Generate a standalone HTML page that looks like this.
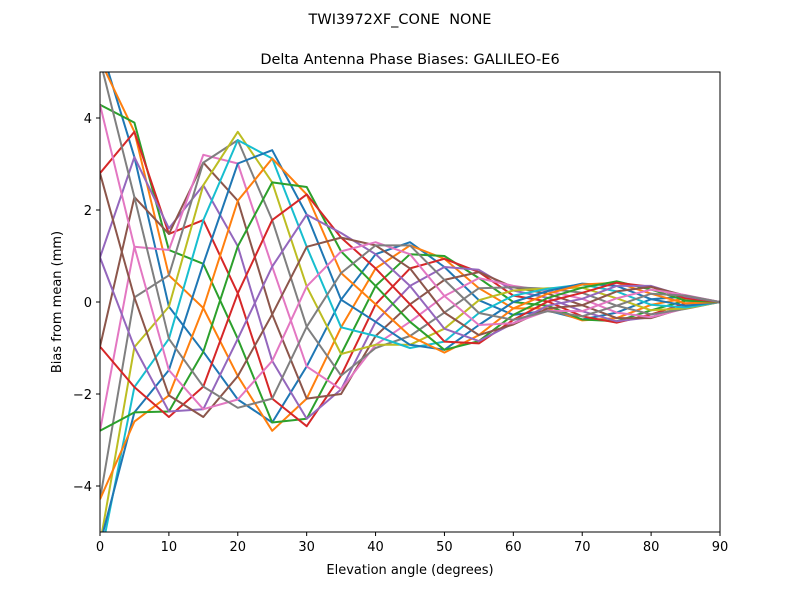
<!DOCTYPE html>
<html><head><meta charset="utf-8"><style>
body{margin:0;background:#fff}
svg{display:block;font-family:"DejaVu Sans","Liberation Sans",sans-serif}
</style></head><body>
<svg id="chart" width="800" height="600" viewBox="0 0 800 600">
<rect width="800" height="600" fill="#fff"/>
<text x="400" y="24" text-anchor="middle" font-size="14.5">TWI3972XF_CONE&#160;&#160;NONE</text>
<text x="410" y="64" text-anchor="middle" font-size="14.5">Delta Antenna Phase Biases: GALILEO-E6</text>
<defs><clipPath id="clip"><rect x="100" y="72" width="620" height="460"/></clipPath></defs>
<g id="lines" clip-path="url(#clip)"></g>
<rect x="100" y="72" width="620" height="460" fill="none" stroke="#000" stroke-width="1"/>
<g id="xt"></g>
<g id="yt"></g>
<text x="410" y="574" text-anchor="middle" font-size="13">Elevation angle (degrees)</text>
<text transform="translate(61,302) rotate(-90)" text-anchor="middle" font-size="13">Bias from mean (mm)</text>
</svg>
<script>
const elevations=[0,5,10,15,20,25,30,35,40,45,50,55,60,65,70,75,80,85,90];
// rows: elevation; columns: series (azimuth)
const e0=[5.6,5.26,4.29,2.8,0.97,-0.97,-2.8,-4.29,-5.26,-5.6,-5.26,-4.29,-2.8,-0.97,0.97,2.8,4.29,5.26];
const e5=[3.15,3.7,3.9,3.7,3.15,2.28,1.2,0.1,-0.98,-1.85,-2.4,-2.6,-2.4,-1.85,-0.98,0.1,1.2,2.28];
const e10=[-0.1,0.58,1.13,1.48,1.6,1.48,1.13,0.58,-0.1,-0.8,-1.48,-2.03,-2.38,-2.5,-2.38,-2.03,-1.48,-0.8];
const e15=[-1.08,-0.13,0.83,1.78,2.54,3.03,3.2,3.03,2.54,1.78,0.83,-0.13,-1.08,-1.84,-2.33,-2.5,-2.33,-1.84];
const e20=[-2.12,-1.61,-0.8,0.19,1.21,2.2,3.01,3.52,3.7,3.52,3.01,2.2,1.21,0.19,-0.8,-1.61,-2.12,-2.3];
const e25=[-2.62,-2.8,-2.62,-2.1,-1.28,-0.27,0.77,1.78,2.6,3.12,3.3,3.12,2.6,1.78,0.77,-0.27,-1.28,-2.1];
const e30=[-1.4,-2.1,-2.54,-2.7,-2.54,-2.1,-1.4,-0.54,0.34,1.2,1.9,2.34,2.5,2.34,1.9,1.2,0.34,-0.54];
const e35=[0.05,-0.55,-1.13,-1.6,-1.9,-2.0,-1.9,-1.6,-1.13,-0.55,0.05,0.63,1.1,1.4,1.5,1.4,1.1,0.63];
const e40=[1.04,0.73,0.35,-0.05,-0.43,-0.74,-0.93,-1.0,-0.93,-0.74,-0.43,-0.05,0.35,0.73,1.04,1.23,1.3,1.23];
const e45=[1.3,1.23,1.04,0.73,0.35,-0.05,-0.43,-0.74,-0.93,-1.0,-0.93,-0.74,-0.43,-0.05,0.35,0.73,1.04,1.23];
const e50=[0.76,0.94,1.0,0.94,0.76,0.48,0.13,-0.23,-0.58,-0.86,-1.04,-1.1,-1.04,-0.86,-0.58,-0.23,0.13,0.48];
const e55=[0.04,0.3,0.52,0.65,0.7,0.65,0.52,0.3,0.04,-0.24,-0.5,-0.72,-0.85,-0.9,-0.85,-0.72,-0.5,-0.24];
const e60=[-0.28,-0.14,0.0,0.14,0.25,0.32,0.35,0.32,0.25,0.14,0.0,-0.14,-0.28,-0.39,-0.46,-0.49,-0.46,-0.39];
const e65=[-0.19,-0.14,-0.08,0.01,0.09,0.18,0.24,0.29,0.3,0.29,0.24,0.18,0.09,0.01,-0.08,-0.14,-0.19,-0.2];
const e70=[-0.38,-0.4,-0.38,-0.31,-0.2,-0.07,0.07,0.2,0.31,0.38,0.4,0.38,0.31,0.2,0.07,-0.07,-0.2,-0.31];
const e75=[-0.23,-0.35,-0.42,-0.45,-0.42,-0.35,-0.23,-0.08,0.08,0.23,0.35,0.42,0.45,0.42,0.35,0.23,0.08,-0.08];
const e80=[0.06,-0.06,-0.18,-0.27,-0.33,-0.35,-0.33,-0.27,-0.18,-0.06,0.06,0.18,0.27,0.33,0.35,0.33,0.27,0.18];
const e85=[0.12,0.08,0.03,-0.03,-0.08,-0.12,-0.14,-0.15,-0.14,-0.12,-0.08,-0.03,0.03,0.08,0.12,0.14,0.15,0.14];
const e90=[0,0,0,0,0,0,0,0,0,0,0,0,0,0,0,0,0,0];
const xTicks=[0,10,20,30,40,50,60,70,80,90];
const yTicks=[-4,-2,0,2,4];

const rows=[e0,e5,e10,e15,e20,e25,e30,e35,e40,e45,e50,e55,e60,e65,e70,e75,e80,e85,e90];
const colors=["#1f77b4","#ff7f0e","#2ca02c","#d62728","#9467bd","#8c564b","#e377c2","#7f7f7f","#bcbd22","#17becf"];
const X=v=>100+(v-0)/90*620;
const Y=v=>302-v*46;
const NS="http://www.w3.org/2000/svg";
const g=document.getElementById('lines');
for(let s=0;s<rows[0].length;s++){
  const pts=elevations.map((e,i)=>X(e).toFixed(1)+","+Y(rows[i][s]).toFixed(1)).join(" ");
  const pl=document.createElementNS(NS,'polyline');
  pl.setAttribute('points',pts);
  pl.setAttribute('fill','none');
  pl.setAttribute('stroke',colors[s%10]);
  pl.setAttribute('stroke-width','2');
  pl.setAttribute('stroke-linejoin','round');
  
  
  g.appendChild(pl);
}
const xt=document.getElementById('xt');
xTicks.forEach(t=>{
  const l=document.createElementNS(NS,'line');
  l.setAttribute('x1',X(t));l.setAttribute('x2',X(t));l.setAttribute('y1',532);l.setAttribute('y2',536);l.setAttribute('stroke','#000');
  
  
  xt.appendChild(l);
  const tx=document.createElementNS(NS,'text');
  tx.setAttribute('x',X(t));tx.setAttribute('y',551);tx.setAttribute('text-anchor','middle');tx.setAttribute('font-size','13');
  tx.textContent=t;
  
  
  xt.appendChild(tx);
});
const yt=document.getElementById('yt');
yTicks.forEach(t=>{
  const l=document.createElementNS(NS,'line');
  l.setAttribute('x1',96);l.setAttribute('x2',100);l.setAttribute('y1',Y(t));l.setAttribute('y2',Y(t));l.setAttribute('stroke','#000');
  
  
  yt.appendChild(l);
  const tx=document.createElementNS(NS,'text');
  tx.setAttribute('x',92);tx.setAttribute('y',Y(t)+5);tx.setAttribute('text-anchor','end');tx.setAttribute('font-size','13');
  tx.textContent=t<0?"\u2212"+(-t):t;
  
  
  yt.appendChild(tx);
});
</script>
</body></html>
